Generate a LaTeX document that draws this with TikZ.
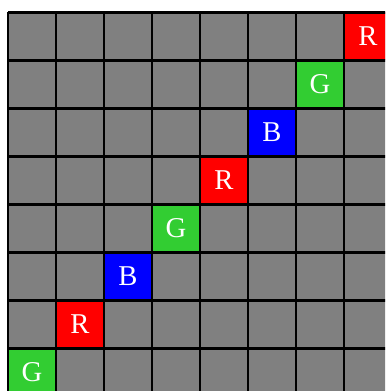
\documentclass[tikz,border=0pt]{standalone}
\usepackage{fontspec}
\setmainfont{Liberation Serif}
\usetikzlibrary{calc}
\definecolor{cellgray}{RGB}{128,128,128}
\definecolor{cellred}{RGB}{255,0,0}
\definecolor{cellgreen}{RGB}{50,205,50}
\definecolor{cellblue}{RGB}{0,0,255}

\begin{document}
\begin{tikzpicture}[x=1cm, y=1cm]
    \useasboundingbox (-0.167,0.115) rectangle (7.854,8.26);
    \clip (-0.167,0.115) rectangle (7.854,8.26);

    \fill[cellgray] (0,0) rectangle (8,8);

    % coloured cells along the diagonal
    \foreach \i/\c/\t in {0/cellgreen/G, 1/cellred/R, 2/cellblue/B, 3/cellgreen/G,
                          4/cellred/R, 5/cellblue/B, 6/cellgreen/G, 7/cellred/R} {
        \fill[\c] (\i,\i) rectangle ++(1,1);
        \node[text=white, font=\fontsize{17}{20}\selectfont] (cell\i)
            at ($(\i,\i)+(0.5,0.5)$) {\t};
    }

    \draw[line width=1.4pt] (0,0) grid (8,8);
\end{tikzpicture}
\end{document}
